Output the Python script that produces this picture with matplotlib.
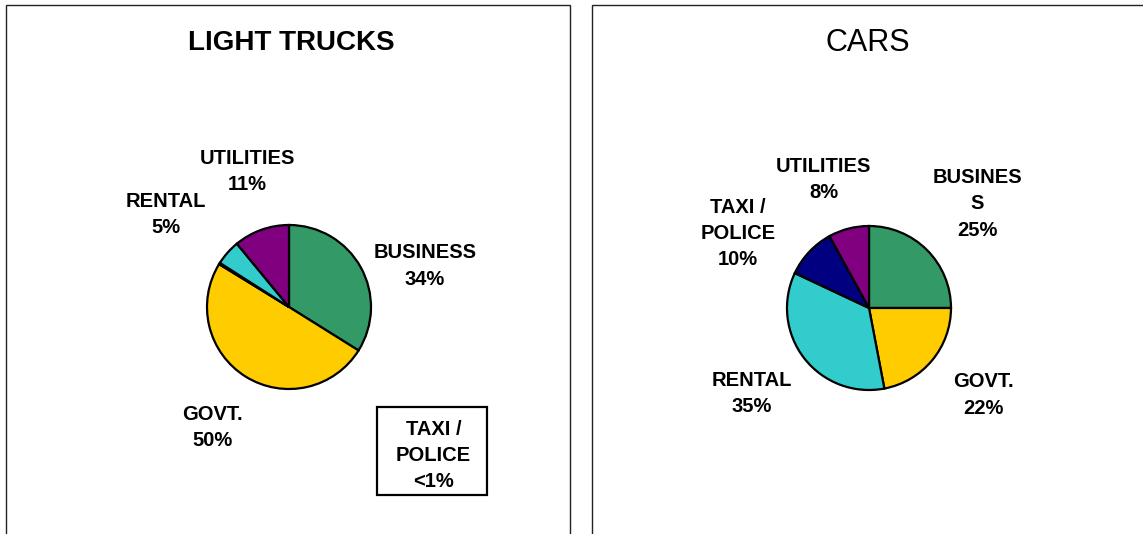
import matplotlib
matplotlib.use("Agg")
import matplotlib.pyplot as plt
from matplotlib.patches import Rectangle

plt.rcParams["font.family"] = ["Liberation Sans", "DejaVu Sans"]

# data
truck_labels = ["BUSINESS\n34%", "GOVT.\n50%", "TAXI /\nPOLICE\n<1%", "RENTAL\n5%", "UTILITIES\n11%"]
truck_values = [34, 50, 0.3, 5, 11]
car_labels = ["BUSINES\nS\n25%", "GOVT.\n22%", "RENTAL\n35%", "TAXI /\nPOLICE\n10%", "UTILITIES\n8%"]
car_values = [25, 22, 35, 10, 8]

truck_colors = ["#339966", "#FFCC00", "#000080", "#33CCCC", "#800080"]
car_colors = ["#339966", "#FFCC00", "#33CCCC", "#000080", "#800080"]

# label centres, in pie radii from the centre
truck_pos = [(1.66, 0.50), (-0.93, -1.47), (1.76, -1.81), (-1.50, 1.13), (-0.51, 1.65)]
car_pos = [(1.32, 1.27), (1.40, -1.06), (-1.43, -1.04), (-1.60, 0.91), (-0.55, 1.57)]

W, H = 1143, 534
R = 82
fig = plt.figure(figsize=(W / 100, H / 100), dpi=100)


def px_box(x0, y0, x1, y1):
    return [x0 / W, 1 - y1 / H, (x1 - x0) / W, (y1 - y0) / H]


# panel frames
for x0, x1 in [(6, 570), (592, 1160)]:
    fig.patches.append(Rectangle((x0 / W, -0.05), (x1 - x0) / W, 1 - 5 / H + 0.05,
                                 transform=fig.transFigure, fill=False,
                                 edgecolor="#222222", linewidth=1.0))


def draw_pie(cx, cy, values, colors, labels, positions):
    ax = fig.add_axes(px_box(cx - R, cy - R, cx + R, cy + R))
    ax.pie(values, colors=colors, startangle=90, counterclock=False, radius=1,
           wedgeprops=dict(edgecolor="black", linewidth=1.6))
    ax.set_xlim(-1, 1)
    ax.set_ylim(-1, 1)
    ax.axis("off")
    for lab, (dx, dy) in zip(labels, positions):
        ax.text(dx, dy, lab, ha="center", va="center", fontsize=14.5,
                fontweight="bold", linespacing=1.48, clip_on=False)
    return ax


ax1 = draw_pie(289, 307, truck_values, truck_colors, truck_labels, truck_pos)
# box round the tiny taxi / police label
ax1.add_patch(Rectangle((1.07, -2.29), 1.35, 1.07, fill=False, edgecolor="black",
                        linewidth=1.6, clip_on=False))

draw_pie(869, 308, car_values, car_colors, car_labels, car_pos)

fig.text(291 / W, 1 - 43 / H, "LIGHT TRUCKS", ha="center", va="center",
         fontsize=20, fontweight="bold")
fig.text(868 / W, 1 - 43 / H, "CARS", ha="center", va="center", fontsize=22)

fig.savefig("out.png", dpi=100)
